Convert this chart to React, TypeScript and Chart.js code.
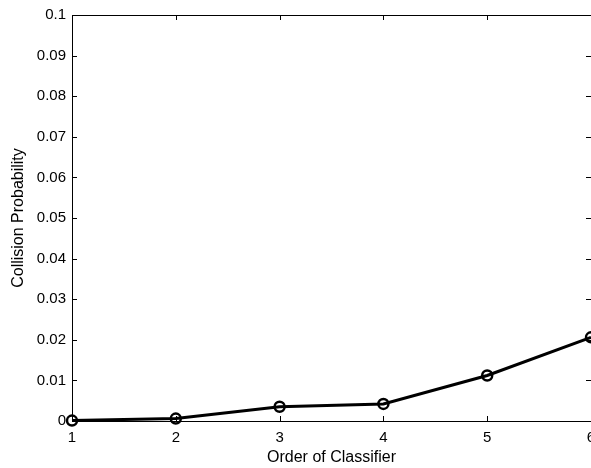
import React, { useEffect, useRef } from "react";
import { Chart, registerables } from "chart.js";

Chart.register(...registerables);

const orders = [1, 2, 3, 4, 5, 6];
const collisionProb = [0.0001, 0.0006, 0.0035, 0.0042, 0.0112, 0.0206];
const yTicks = [0, 0.01, 0.02, 0.03, 0.04, 0.05, 0.06, 0.07, 0.08, 0.09, 0.1];

const CANVAS_W = 700;
const CANVAS_H = 468;

const boxPlugin = {
  id: "matlabBox",
  beforeDatasetsDraw(chart: any) {
    const { ctx, chartArea } = chart;
    const { left, right, top, bottom } = chartArea;
    const xs = chart.scales.x;
    const ys = chart.scales.y;
    ctx.save();
    ctx.strokeStyle = "#000";
    ctx.lineWidth = 1;
    ctx.beginPath();
    ctx.rect(Math.round(left) + 0.5, Math.round(top) + 0.5, Math.round(right - left), Math.round(bottom - top));
    ctx.stroke();
    const tl = 5;
    ctx.beginPath();
    xs.ticks.forEach((t: any) => {
      const px = Math.round(xs.getPixelForValue(t.value)) + 0.5;
      ctx.moveTo(px, bottom);
      ctx.lineTo(px, bottom - tl);
      ctx.moveTo(px, top);
      ctx.lineTo(px, top + tl);
    });
    ys.ticks.forEach((t: any) => {
      const py = Math.round(ys.getPixelForValue(t.value)) + 0.5;
      ctx.moveTo(left, py);
      ctx.lineTo(left + tl, py);
      ctx.moveTo(right, py);
      ctx.lineTo(right - tl, py);
    });
    ctx.stroke();
    ctx.restore();
  },
};

export default function App() {
  const ref = useRef<HTMLCanvasElement | null>(null);

  useEffect(() => {
    document.body.style.margin = "0";
    document.body.style.overflow = "hidden";
    const canvas = ref.current!;
    const font = "Liberation Sans, Arial, sans-serif";
    const chart = new Chart(canvas, {
      type: "line",
      data: {
        datasets: [
          {
            data: orders.map((o, i) => ({ x: o, y: collisionProb[i] })),
            borderColor: "#000",
            borderWidth: 3,
            pointStyle: "circle",
            pointRadius: 5,
            pointBorderWidth: 2.5,
            pointBorderColor: "#000",
            pointBackgroundColor: "rgba(0,0,0,0)",
            fill: false,
            tension: 0,
            clip: false as any,
          },
        ],
      },
      options: {
        responsive: false,
        animation: false,
        events: [],
        layout: { padding: { top: 12, right: CANVAS_W - 591, left: 0, bottom: 0 } },
        plugins: { legend: { display: false }, tooltip: { enabled: false } },
        scales: {
          x: {
            type: "linear",
            min: 1,
            max: 6,
            afterBuildTicks: (s: any) => {
              s.ticks = orders.map((v) => ({ value: v }));
            },
            afterFit: (s: any) => {
              s.height = 47;
            },
            grid: { display: false, drawTicks: false },
            border: { display: false },
            ticks: {
              color: "#000",
              font: { family: font, size: 15 },
              padding: 8,
              maxRotation: 0,
              callback: (v: any) => String(v),
            },
            title: {
              display: true,
              text: "Order of Classifier",
              color: "#000",
              font: { family: font, size: 16 },
              padding: { top: 0, bottom: 1 },
            },
          },
          y: {
            type: "linear",
            min: 0,
            max: 0.1,
            afterBuildTicks: (s: any) => {
              s.ticks = yTicks.map((v) => ({ value: v }));
            },
            afterFit: (s: any) => {
              s.width = 72;
            },
            grid: { display: false, drawTicks: false },
            border: { display: false },
            ticks: {
              color: "#000",
              font: { family: font, size: 15 },
              padding: 6,
              callback: (v: any) => String(Number(Number(v).toFixed(2))),
            },
            title: {
              display: true,
              text: "Collision Probability",
              color: "#000",
              font: { family: font, size: 16 },
              padding: { top: 9, bottom: 0 },
            },
          },
        },
      },
      plugins: [boxPlugin],
    });
    return () => chart.destroy();
  }, []);

  return (
    <div style={{ position: "fixed", left: 0, top: 0, width: 591, height: 468, overflow: "hidden", background: "#fff" }}>
      <canvas ref={ref} width={CANVAS_W} height={CANVAS_H} style={{ width: CANVAS_W, height: CANVAS_H, display: "block" }} />
    </div>
  );
}
